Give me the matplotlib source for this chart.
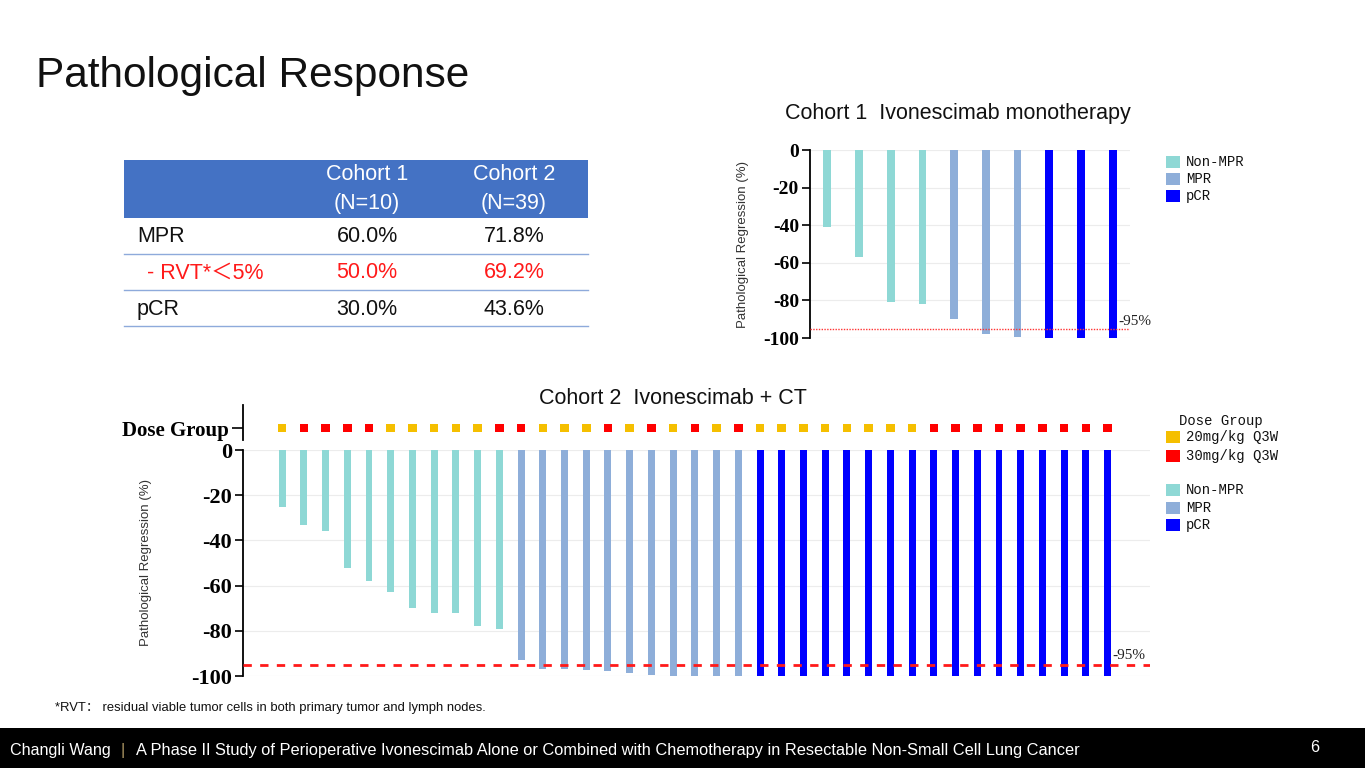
import matplotlib
matplotlib.use("Agg")
import matplotlib.pyplot as plt
from matplotlib.patches import Rectangle
from matplotlib.lines import Line2D

# ---------------- data ----------------
c1_values = [-41, -57, -81, -82, -90, -98, -99.6, -100, -100, -100]
c1_groups = ["Non-MPR"] * 4 + ["MPR"] * 3 + ["pCR"] * 3

c2_values = [-25, -33, -36, -52, -58, -63, -70, -72, -72, -78, -79,
             -93, -97, -97, -97.5, -98, -98.5, -99.5, -100, -100, -100, -100,
             -100, -100, -100, -100, -100, -100, -100, -100, -100,
             -100, -100, -100, -100, -100, -100, -100, -100]
c2_groups = ["Non-MPR"] * 11 + ["MPR"] * 11 + ["pCR"] * 17
c2_dose = ["20", "30", "30", "30", "30", "20", "20", "20", "20", "20",
           "30", "30", "20", "20", "20", "30", "20", "30", "20", "30",
           "20", "30", "20", "20", "20", "20", "20", "20", "20", "20",
           "30", "30", "30", "30", "30", "30", "30", "30", "30"]

yticks = [0, -20, -40, -60, -80, -100]
threshold = -95

table_cols = ["Cohort 1\n(N=10)", "Cohort 2\n(N=39)"]
table_rows = ["MPR", "- RVT*\uff1c5%", "pCR"]
table_c1 = ["60.0%", "50.0%", "30.0%"]
table_c2 = ["71.8%", "69.2%", "43.6%"]

resp_colors = {"Non-MPR": "#8ed8d5", "MPR": "#8eaed9", "pCR": "#0000ff"}
dose_colors = {"20": "#f5bf00", "30": "#ff0000"}
dose_labels = {"20": "20mg/kg Q3W", "30": "30mg/kg Q3W"}

# ---------------- figure ----------------
W, H = 1365, 768
fig = plt.figure(figsize=(W / 100, H / 100), dpi=100)
fig.patch.set_facecolor("white")

SANS = ["Liberation Sans", "Noto Sans CJK SC", "DejaVu Sans"]
SERIF = ["Liberation Serif", "DejaVu Serif"]
MONO = ["Liberation Mono", "DejaVu Sans Mono"]


def rect(x0, y0, x1, y1):
    return [x0 / W, 1 - y1 / H, (x1 - x0) / W, (y1 - y0) / H]


def fx(x):
    return x / W


def fy(y):
    return 1 - y / H


def style_axis(ax, fs):
    for s in ["top", "right", "bottom"]:
        ax.spines[s].set_visible(False)
    ax.spines["left"].set_linewidth(1.3)
    ax.set_xticks([])
    ax.set_ylim(-100, 0)
    ax.set_yticks(yticks)
    ax.set_yticklabels([str(t) for t in yticks], fontfamily=SERIF,
                       fontweight="bold", fontsize=fs)
    ax.tick_params(axis="y", length=6, width=1.2, pad=2)
    ax.grid(axis="y", color="#ececec", linewidth=0.8)
    ax.set_axisbelow(True)
    ax.set_ylabel("Pathological Regression (%)", fontfamily=SANS,
                  fontsize=9.5, color="#333333")


# title
fig.text(fx(36), fy(87), "Pathological Response", fontfamily=SANS,
         fontsize=30.5, color="#111111", va="baseline", ha="left")

# ---------------- table ----------------
fig.patches.append(Rectangle((fx(124), fy(218)), fx(588) - fx(124),
                             fy(160) - fy(218), transform=fig.transFigure,
                             facecolor="#4472c4", edgecolor="none"))
col_x = [367, 514]
for cx, lab in zip(col_x, table_cols):
    l1, l2 = lab.split("\n")
    fig.text(fx(cx), fy(174), l1, fontfamily=SANS, fontsize=15.5,
             color="white", ha="center", va="center")
    fig.text(fx(cx), fy(203), l2, fontfamily=SANS, fontsize=15.5,
             color="white", ha="center", va="center")
row_y = [237, 273, 310]
row_col = ["#111111", "#ff1a1a", "#111111"]
row_x = [137, 147, 137]
for i, r in enumerate(table_rows):
    fig.text(fx(row_x[i]), fy(row_y[i]), r, fontfamily=SANS, fontsize=15.5,
             color=row_col[i], ha="left", va="center")
    fig.text(fx(col_x[0]), fy(row_y[i]), table_c1[i], fontfamily=SANS,
             fontsize=15.5, color=row_col[i], ha="center", va="center")
    fig.text(fx(col_x[1]), fy(row_y[i]), table_c2[i], fontfamily=SANS,
             fontsize=15.5, color=row_col[i], ha="center", va="center")
for ly in [254, 290, 326]:
    fig.add_artist(Line2D([fx(124), fx(588)], [fy(ly), fy(ly)],
                          transform=fig.transFigure, color="#8eaadb", lw=1))

# ---------------- cohort 1 ----------------
ax1 = fig.add_axes(rect(810, 150, 1130, 338))
x1 = list(range(len(c1_values)))
ax1.bar(x1, c1_values, width=0.25, color=[resp_colors[g] for g in c1_groups],
        zorder=2)
ax1.set_xlim(-0.55, len(c1_values) - 0.45)
style_axis(ax1, 14)
ax1.yaxis.set_label_coords(-0.19, 0.5)
ax1.axhline(threshold, color="#ff3333", lw=1.0, ls=(0, (1, 1)), zorder=3)
ax1.text(0.965, threshold + 0.5, "-95%", transform=ax1.get_yaxis_transform(),
         fontfamily=SERIF, fontsize=11, ha="left", va="bottom",
         color="#222222", zorder=4)
fig.text(fx(958), fy(113), "Cohort 1  Ivonescimab monotherapy",
         fontfamily=SANS, fontsize=15.5, ha="center", va="center",
         color="#111111")

# legend cohort 1
for i, g in enumerate(["Non-MPR", "MPR", "pCR"]):
    yc = 162 + 17 * i
    fig.patches.append(Rectangle((fx(1166), fy(yc + 6)), fx(14), fy(0) - fy(12),
                                 transform=fig.transFigure,
                                 facecolor=resp_colors[g], edgecolor="none"))
    fig.text(fx(1186), fy(yc), g, fontfamily=MONO, fontsize=10,
             ha="left", va="center", color="#111111")

# ---------------- cohort 2 ----------------
ax2 = fig.add_axes(rect(243, 450, 1150, 676))
x2 = list(range(len(c2_values)))
ax2.bar(x2, c2_values, width=0.32, color=[resp_colors[g] for g in c2_groups],
        zorder=2)
xl = (-1.8, len(c2_values) + 0.95)
ax2.set_xlim(*xl)
style_axis(ax2, 16)
ax2.yaxis.set_label_coords(-0.1, 0.5)
ax2.axhline(threshold, color="#ff1a1a", lw=2.0, ls=(0, (3, 3)), zorder=3)
ax2.text(0.958, threshold + 1, "-95%", transform=ax2.get_yaxis_transform(),
         fontfamily=SERIF, fontsize=11, ha="left", va="bottom",
         color="#222222", zorder=4)

axd = fig.add_axes(rect(243, 405, 1150, 440))
axd.set_xlim(*xl)
axd.set_ylim(0, 1)
for s in ["top", "right", "bottom"]:
    axd.spines[s].set_visible(False)
axd.spines["left"].set_linewidth(1.3)
axd.set_xticks([])
axd.set_yticks([0.34])
axd.set_yticklabels(["Dose Group"], fontfamily=SERIF, fontweight="bold",
                    fontsize=15)
axd.tick_params(axis="y", length=8, width=1.2, pad=2)
axd.scatter(x2, [0.34] * len(x2), marker="s", s=38,
            c=[dose_colors[d] for d in c2_dose], linewidths=0, zorder=3)

fig.text(fx(673), fy(398), "Cohort 2  Ivonescimab + CT", fontfamily=SANS,
         fontsize=15.5, ha="center", va="center", color="#111111")

# legend cohort 2
fig.text(fx(1179), fy(421), "Dose Group", fontfamily=MONO, fontsize=10,
         ha="left", va="center", color="#111111")
for i, d in enumerate(["20", "30"]):
    yc = 437 + 19 * i
    fig.patches.append(Rectangle((fx(1166), fy(yc + 6)), fx(14), fy(0) - fy(12),
                                 transform=fig.transFigure,
                                 facecolor=dose_colors[d], edgecolor="none"))
    fig.text(fx(1186), fy(yc), dose_labels[d], fontfamily=MONO, fontsize=10,
             ha="left", va="center", color="#111111")
for i, g in enumerate(["Non-MPR", "MPR", "pCR"]):
    yc = 490 + 17.5 * i
    fig.patches.append(Rectangle((fx(1166), fy(yc + 6)), fx(14), fy(0) - fy(12),
                                 transform=fig.transFigure,
                                 facecolor=resp_colors[g], edgecolor="none"))
    fig.text(fx(1186), fy(yc), g, fontfamily=MONO, fontsize=10,
             ha="left", va="center", color="#111111")

# footnote
fig.text(fx(55), fy(708), "*RVT\uff1a residual viable tumor cells in both primary tumor and lymph nodes.",
         fontfamily=SANS, fontsize=9.4, ha="left", va="center", color="#111111")

# footer
fig.patches.append(Rectangle((0, 0), 1, fy(728), transform=fig.transFigure,
                             facecolor="black", edgecolor="none"))
fig.text(fx(10), fy(750), "Changli Wang", fontfamily=SANS, fontsize=11.6,
         color="white", ha="left", va="center")
fig.text(fx(121), fy(750), "|", fontfamily=SANS, fontsize=11.6,
         color="#b8a06a", ha="left", va="center")
fig.text(fx(136), fy(750),
         "A Phase II Study of Perioperative Ivonescimab Alone or Combined with Chemotherapy in Resectable Non-Small Cell Lung Cancer",
         fontfamily=SANS, fontsize=11.8, color="white", ha="left", va="center")
fig.text(fx(1315), fy(748), "6", fontfamily=SANS, fontsize=11.6,
         color="white", ha="center", va="center")

fig.savefig("out.png", dpi=100, facecolor="white")
